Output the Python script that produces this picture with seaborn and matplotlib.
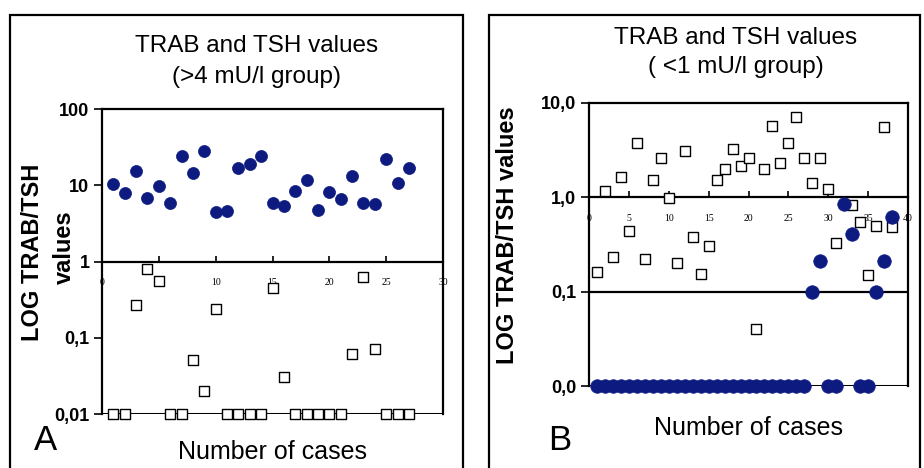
import numpy as np
import pandas as pd
import seaborn as sns
import matplotlib
matplotlib.use('Agg')
import matplotlib.pyplot as plt
from matplotlib.patches import Rectangle

# --- datos ---
# Panel A (>4 mU/l group): 27 casos
casos_a = list(range(1, 28))
tsh_a = [10.3, 7.8, 15.3, 6.8, 9.9, 5.9, 24.4, 14.6, 28.0, 4.4, 4.6, 16.8, 19.1, 24.4,
         5.8, 5.3, 8.5, 11.7, 4.8, 8.1, 6.7, 13.2, 5.8, 5.6, 22.1, 10.7, 16.9]
trab_a = [0.01, 0.01, 0.27, 0.79, 0.55, 0.01, 0.01, 0.051, 0.020, 0.24, 0.01, 0.01, 0.01, 0.01,
          0.45, 0.031, 0.01, 0.01, 0.01, 0.01, 0.01, 0.062, 0.63, 0.072, 0.01, 0.01, 0.01]

# Panel B (<1 mU/l group): 38 casos
casos_b = list(range(1, 39))
tsh_b = [0.01] * 27 + [0.1, 0.21, 0.01, 0.01, 0.84, 0.41, 0.01, 0.01, 0.1, 0.21, 0.62]
trab_b = [0.16, 1.16, 0.235, 1.62, 0.44, 3.73, 0.22, 1.51, 2.6, 0.98, 0.2, 3.1, 0.38, 0.153,
          0.305, 1.51, 2.0, 3.2, 2.15, 2.6, 0.04, 2.0, 5.7, 2.3, 3.7, 7.1, 2.6, 1.42, 2.6,
          1.22, 0.33, np.nan, 0.82, 0.55, 0.15, 0.5, 5.5, 0.48]

yticks_a = [0.01, 0.1, 1, 10, 100]
ylabels_a = ['0,01', '0,1', '1', '10', '100']
yticks_b = [0.01, 0.1, 1, 10]
ylabels_b = ['0,0', '0,1', '1,0', '10,0']
xticks_a = [0, 5, 10, 15, 20, 25, 30]
xticks_b = [0, 5, 10, 15, 20, 25, 30, 35, 40]

azul = '#0d1a80'

sns.set_style('white')
plt.rcParams['font.family'] = ['Liberation Sans', 'DejaVu Sans']
plt.rcParams['text.color'] = 'black'
plt.rcParams['xtick.color'] = 'black'
plt.rcParams['ytick.color'] = 'black'
plt.rcParams['axes.labelcolor'] = 'black'

fig = plt.figure(figsize=(9.24, 4.68), dpi=100)

# marcos de cada panel
fig.patches.append(Rectangle((10 / 924, -0.05), 453 / 924, 1 - 15 / 468 + 0.05,
                             transform=fig.transFigure, fill=False, edgecolor='black', lw=1.6))
fig.patches.append(Rectangle((489 / 924, -0.05), 431 / 924, 1 - 15 / 468 + 0.05,
                             transform=fig.transFigure, fill=False, edgecolor='black', lw=1.6))

ax_a = fig.add_axes([102 / 924, 1 - 414 / 468, 341 / 924, 305 / 468])
ax_b = fig.add_axes([589 / 924, 1 - 386 / 468, 319 / 924, 283.3 / 468])


def dibujar(ax, casos, tsh, trab, xmax, ymax, yticks, ylabels, xticks, sq, ci):
    df = pd.DataFrame({'caso': casos, 'tsh': tsh, 'trab': trab})
    sns.scatterplot(data=df, x='caso', y='trab', ax=ax, marker='s', s=sq,
                    facecolor='white', edgecolor='black', linewidth=1.0, clip_on=False, zorder=3)
    sns.scatterplot(data=df, x='caso', y='tsh', ax=ax, marker='o', s=ci,
                    color=azul, edgecolor=azul, linewidth=0.5, clip_on=False, zorder=4)
    ax.set_yscale('log')
    ax.set_xlim(0, xmax)
    ax.set_ylim(yticks[0], ymax)
    ax.set_yticks(yticks)
    ax.set_yticklabels(ylabels, fontsize=13, fontweight='bold')
    ax.minorticks_off()
    ax.tick_params(axis='y', left=True, direction='out', length=6, width=1.2, pad=3)
    # eje x a la altura de 1
    ax.spines['bottom'].set_position(('data', 1))
    ax.set_xticks(xticks)
    ax.set_xticklabels([str(t) for t in xticks], fontsize=7, family='Liberation Serif')
    ax.tick_params(axis='x', bottom=True, direction='in', length=4, width=1.2, pad=12)
    for s in ['left', 'right', 'top', 'bottom']:
        ax.spines[s].set_linewidth(1.6)
        ax.spines[s].set_color('black')
    ax.axhline(yticks[0], color='black', lw=2.2, zorder=2)
    ax.set_xlabel('')
    ax.set_ylabel('')
    ax.patch.set_alpha(0)


dibujar(ax_a, casos_a, tsh_a, trab_a, 30, 100, yticks_a, ylabels_a, xticks_a, 60, 75)
dibujar(ax_b, casos_b, tsh_b, trab_b, 40, 10, yticks_b, ylabels_b, xticks_b, 60, 95)
ax_b.axhline(0.1, color='black', lw=1.6, zorder=2)

# titulos
fig.text(257 / 924, 1 - 46 / 468, 'TRAB and TSH values', ha='center', va='center', fontsize=17.5)
fig.text(257 / 924, 1 - 77 / 468, '(>4 mU/l group)', ha='center', va='center', fontsize=17.5)
fig.text(736 / 924, 1 - 38 / 468, 'TRAB and TSH values', ha='center', va='center', fontsize=17.5)
fig.text(736 / 924, 1 - 67 / 468, '( <1 mU/l group)', ha='center', va='center', fontsize=17.5)

# etiquetas de ejes
fig.text(33 / 924, 1 - 252 / 468, 'LOG TRAB/TSH', rotation=90, ha='center', va='center',
         fontsize=17, fontweight='bold')
fig.text(64 / 924, 1 - 247 / 468, 'values', rotation=90, ha='center', va='center',
         fontsize=17, fontweight='bold')
fig.text(508 / 924, 1 - 235 / 468, 'LOG TRAB/TSH values', rotation=90, ha='center', va='center',
         fontsize=17, fontweight='bold')
fig.text(272 / 924, 1 - 452 / 468, 'Number of cases', ha='center', va='center', fontsize=18)
fig.text(748 / 924, 1 - 428 / 468, 'Number of cases', ha='center', va='center', fontsize=18)

fig.text(45 / 924, 1 - 440 / 468, 'A', ha='center', va='center', fontsize=25)
fig.text(560 / 924, 1 - 440 / 468, 'B', ha='center', va='center', fontsize=25)

plt.savefig('out.png', dpi=100)
